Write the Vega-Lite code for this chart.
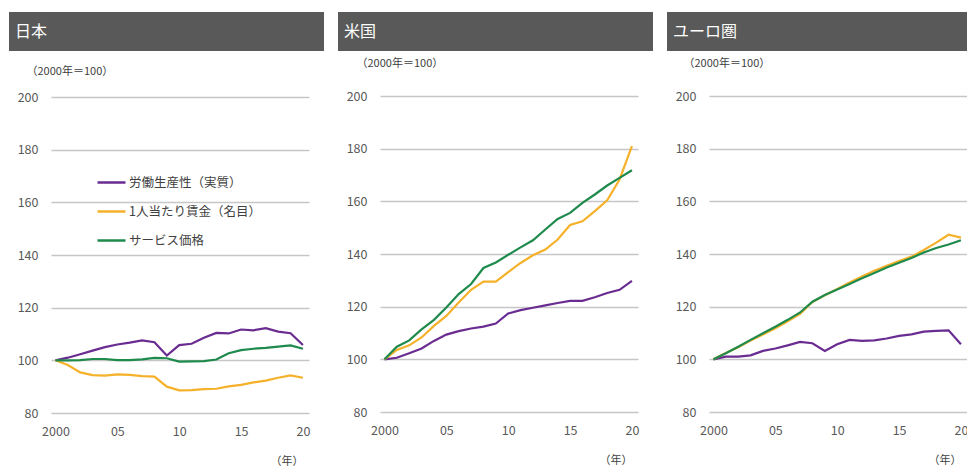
{
  "$schema": "https://vega.github.io/schema/vega-lite/v6.json",
  "padding": {"left": 8, "top": 12, "right": 0, "bottom": 0},
  "background": "white",
  "config": {
    "font": "Noto Sans CJK JP",
    "view": {"stroke": null},
    "axis": {"labelFont": "Noto Sans CJK JP", "titleFont": "Noto Sans CJK JP", "labelColor": "#595959", "titleColor": "#404040", "labelFontSize": 12.5, "titleFontSize": 11, "titleFontWeight": "normal"},
    "legend": {"labelFont": "Noto Sans CJK JP"}
  },
  "datasets": {
    "header": [{"region": "日本"}, {"region": "米国"}, {"region": "ユーロ圏"}],
    "jp": [
      {"year": 2000, "労働生産性（実質）": 100, "1人当たり賃金（名目）": 100, "サービス価格": 100},
      {"year": 2001, "労働生産性（実質）": 101, "1人当たり賃金（名目）": 98.2, "サービス価格": 100},
      {"year": 2002, "労働生産性（実質）": 102.3, "1人当たり賃金（名目）": 95.4, "サービス価格": 100.1},
      {"year": 2003, "労働生産性（実質）": 103.7, "1人当たり賃金（名目）": 94.4, "サービス価格": 100.5},
      {"year": 2004, "労働生産性（実質）": 105, "1人当たり賃金（名目）": 94.2, "サービス価格": 100.5},
      {"year": 2005, "労働生産性（実質）": 106, "1人当たり賃金（名目）": 94.7, "サービス価格": 100.1},
      {"year": 2006, "労働生産性（実質）": 106.7, "1人当たり賃金（名目）": 94.5, "サービス価格": 100.1},
      {"year": 2007, "労働生産性（実質）": 107.6, "1人当たり賃金（名目）": 94, "サービス価格": 100.4},
      {"year": 2008, "労働生産性（実質）": 106.9, "1人当たり賃金（名目）": 93.8, "サービス価格": 100.9},
      {"year": 2009, "労働生産性（実質）": 101.8, "1人当たり賃金（名目）": 90, "サービス価格": 100.8},
      {"year": 2010, "労働生産性（実質）": 105.8, "1人当たり賃金（名目）": 88.6, "サービス価格": 99.5},
      {"year": 2011, "労働生産性（実質）": 106.3, "1人当たり賃金（名目）": 88.7, "サービス価格": 99.6},
      {"year": 2012, "労働生産性（実質）": 108.6, "1人当たり賃金（名目）": 89.1, "サービス価格": 99.7},
      {"year": 2013, "労働生産性（実質）": 110.4, "1人当たり賃金（名目）": 89.2, "サービス価格": 100.3},
      {"year": 2014, "労働生産性（実質）": 110.2, "1人当たり賃金（名目）": 90.1, "サービス価格": 102.7},
      {"year": 2015, "労働生産性（実質）": 111.7, "1人当たり賃金（名目）": 90.7, "サービス価格": 103.9},
      {"year": 2016, "労働生産性（実質）": 111.4, "1人当たり賃金（名目）": 91.6, "サービス価格": 104.4},
      {"year": 2017, "労働生産性（実質）": 112.2, "1人当たり賃金（名目）": 92.3, "サービス価格": 104.7},
      {"year": 2018, "労働生産性（実質）": 110.9, "1人当たり賃金（名目）": 93.4, "サービス価格": 105.2},
      {"year": 2019, "労働生産性（実質）": 110.3, "1人当たり賃金（名目）": 94.3, "サービス価格": 105.7},
      {"year": 2020, "労働生産性（実質）": 105.8, "1人当たり賃金（名目）": 93.4, "サービス価格": 104.4}
    ],
    "us": [
      {"year": 2000, "労働生産性（実質）": 100, "1人当たり賃金（名目）": 100, "サービス価格": 100},
      {"year": 2001, "労働生産性（実質）": 100.6, "1人当たり賃金（名目）": 103.6, "サービス価格": 104.8},
      {"year": 2002, "労働生産性（実質）": 102.3, "1人当たり賃金（名目）": 105.3, "サービス価格": 107.2},
      {"year": 2003, "労働生産性（実質）": 104.1, "1人当たり賃金（名目）": 108.3, "サービス価格": 111.4},
      {"year": 2004, "労働生産性（実質）": 107, "1人当たり賃金（名目）": 112.7, "サービス価格": 115},
      {"year": 2005, "労働生産性（実質）": 109.4, "1人当たり賃金（名目）": 116.5, "サービス価格": 119.7},
      {"year": 2006, "労働生産性（実質）": 110.7, "1人当たり賃金（名目）": 121.6, "サービス価格": 124.8},
      {"year": 2007, "労働生産性（実質）": 111.7, "1人当たり賃金（名目）": 126.4, "サービス価格": 128.6},
      {"year": 2008, "労働生産性（実質）": 112.4, "1人当たり賃金（名目）": 129.5, "サービス価格": 134.7},
      {"year": 2009, "労働生産性（実質）": 113.6, "1人当たり賃金（名目）": 129.5, "サービス価格": 136.8},
      {"year": 2010, "労働生産性（実質）": 117.4, "1人当たり賃金（名目）": 133.1, "サービス価格": 139.7},
      {"year": 2011, "労働生産性（実質）": 118.7, "1人当たり賃金（名目）": 136.6, "サービス価格": 142.5},
      {"year": 2012, "労働生産性（実質）": 119.6, "1人当たり賃金（名目）": 139.5, "サービス価格": 145.2},
      {"year": 2013, "労働生産性（実質）": 120.5, "1人当たり賃金（名目）": 141.7, "サービス価格": 149.3},
      {"year": 2014, "労働生産性（実質）": 121.4, "1人当たり賃金（名目）": 145.5, "サービス価格": 153.3},
      {"year": 2015, "労働生産性（実質）": 122.2, "1人当たり賃金（名目）": 151, "サービス価格": 155.6},
      {"year": 2016, "労働生産性（実質）": 122.2, "1人当たり賃金（名目）": 152.4, "サービス価格": 159.4},
      {"year": 2017, "労働生産性（実質）": 123.6, "1人当たり賃金（名目）": 156.3, "サービス価格": 162.6},
      {"year": 2018, "労働生産性（実質）": 125.2, "1人当たり賃金（名目）": 160.4, "サービス価格": 166},
      {"year": 2019, "労働生産性（実質）": 126.4, "1人当たり賃金（名目）": 168.3, "サービス価格": 168.9},
      {"year": 2020, "労働生産性（実質）": 129.8, "1人当たり賃金（名目）": 181, "サービス価格": 171.8}
    ],
    "eu": [
      {"year": 2000, "労働生産性（実質）": 100, "1人当たり賃金（名目）": 100, "サービス価格": 100},
      {"year": 2001, "労働生産性（実質）": 101, "1人当たり賃金（名目）": 102.4, "サービス価格": 102.3},
      {"year": 2002, "労働生産性（実質）": 101, "1人当たり賃金（名目）": 104.6, "サービス価格": 104.8},
      {"year": 2003, "労働生産性（実質）": 101.5, "1人当たり賃金（名目）": 107.1, "サービス価格": 107.4},
      {"year": 2004, "労働生産性（実質）": 103.2, "1人当たり賃金（名目）": 109.4, "サービス価格": 109.9},
      {"year": 2005, "労働生産性（実質）": 104.1, "1人当たり賃金（名目）": 111.8, "サービス価格": 112.4},
      {"year": 2006, "労働生産性（実質）": 105.3, "1人当たり賃金（名目）": 114.4, "サービス価格": 115},
      {"year": 2007, "労働生産性（実質）": 106.6, "1人当たり賃金（名目）": 117.3, "サービス価格": 117.8},
      {"year": 2008, "労働生産性（実質）": 106.1, "1人当たり賃金（名目）": 121.8, "サービス価格": 121.9},
      {"year": 2009, "労働生産性（実質）": 103.2, "1人当たり賃金（名目）": 124.3, "サービス価格": 124.4},
      {"year": 2010, "労働生産性（実質）": 105.7, "1人当たり賃金（名目）": 126.7, "サービス価格": 126.5},
      {"year": 2011, "労働生産性（実質）": 107.4, "1人当たり賃金（名目）": 129.2, "サービス価格": 128.6},
      {"year": 2012, "労働生産性（実質）": 107, "1人当たり賃金（名目）": 131.5, "サービス価格": 130.8},
      {"year": 2013, "労働生産性（実質）": 107.2, "1人当たり賃金（名目）": 133.6, "サービス価格": 132.8},
      {"year": 2014, "労働生産性（実質）": 107.9, "1人当たり賃金（名目）": 135.5, "サービス価格": 134.9},
      {"year": 2015, "労働生産性（実質）": 108.9, "1人当たり賃金（名目）": 137.3, "サービス価格": 136.7},
      {"year": 2016, "労働生産性（実質）": 109.5, "1人当たり賃金（名目）": 139, "サービス価格": 138.5},
      {"year": 2017, "労働生産性（実質）": 110.5, "1人当たり賃金（名目）": 141.5, "サービス価格": 140.6},
      {"year": 2018, "労働生産性（実質）": 110.8, "1人当たり賃金（名目）": 144.3, "サービス価格": 142.3},
      {"year": 2019, "労働生産性（実質）": 111, "1人当たり賃金（名目）": 147.3, "サービス価格": 143.6},
      {"year": 2020, "労働生産性（実質）": 105.7, "1人当たり賃金（名目）": 146.2, "サービス価格": 145.2}
    ]
  },
  "spacing": 13,
  "resolve": {"scale": {"color": "independent"}, "legend": {"color": "independent"}},
  "hconcat": [
    {
      "spacing": 14,
      "vconcat": [
        {
          "width": 258, "height": 39,
          "data": {"name": "header"},
          "transform": [{"filter": "datum.region === '日本'"}],
          "encoding": {
            "x": {"datum": 0, "type": "quantitative", "scale": {"domain": [0, 1], "range": [-42, 273]}, "axis": null},
            "y": {"datum": 0, "type": "quantitative", "scale": {"domain": [0, 1]}, "axis": null}
          },
          "layer": [
            {"mark": {"type": "bar", "color": "#595959"}, "encoding": {"x2": {"datum": 1}, "y2": {"datum": 1}}},
            {"mark": {"type": "text", "align": "left", "baseline": "middle", "dx": 6, "color": "white", "fontSize": 16, "font": "Noto Sans CJK JP"},
             "encoding": {"y": {"datum": 0.5, "type": "quantitative"}, "text": {"field": "region"}}}
          ]
        },
        {
          "width": 258, "height": 316,
          "data": {"name": "jp"},
          "transform": [{"fold": ["労働生産性（実質）", "1人当たり賃金（名目）", "サービス価格"], "as": ["series", "value"]}],
          "mark": {"type": "line", "strokeWidth": 2.2},
          "encoding": {
            "x": {"field": "year", "type": "quantitative", "scale": {"domain": [1999.64, 2020.49], "nice": false, "zero": false},
              "axis": {"values": [2000, 2005, 2010, 2015, 2020], "labelExpr": "datum.value == 2000 ? '2000' : slice('0' + (datum.value - 2000), -2)", "grid": false, "domain": false, "ticks": false, "labelPadding": 12, "labelFlush": false, "title": "（年）", "titleAlign": "right", "titleX": 252, "titleY": 48, "titleBaseline": "middle"}},
            "y": {"field": "value", "type": "quantitative", "scale": {"domain": [80, 200], "nice": false, "zero": false},
              "axis": {"values": [80, 100, 120, 140, 160, 180, 200], "grid": true, "gridColor": "#c6c6c6", "gridWidth": 1.5, "domain": false, "ticks": true, "tickSize": 42, "tickColor": "transparent", "labelPadding": -29, "labelFlush": false, "title": "（2000年＝100）", "titleAngle": 0, "titleAlign": "left", "titleBaseline": "middle", "titleX": -25, "titleY": -26}},
            "color": {"field": "series", "type": "nominal",
              "scale": {"domain": ["労働生産性（実質）", "1人当たり賃金（名目）", "サービス価格"], "range": ["#6a2c91", "#f6b12a", "#1e8a4c"]},
              "legend": {"orient": "none", "legendX": 45, "legendY": 155, "title": null, "symbolType": "stroke", "symbolSize": 784, "symbolStrokeWidth": 2.5, "labelFontSize": 12.5, "labelColor": "#404040", "labelOffset": 2, "rowPadding": 7, "padding": 0}}
          }
        }
      ]
    },
    {
      "spacing": 6,
      "vconcat": [
        {
          "width": 258, "height": 39,
          "data": {"name": "header"},
          "transform": [{"filter": "datum.region === '米国'"}],
          "encoding": {
            "x": {"datum": 0, "type": "quantitative", "scale": {"domain": [0, 1], "range": [-42, 273]}, "axis": null},
            "y": {"datum": 0, "type": "quantitative", "scale": {"domain": [0, 1]}, "axis": null}
          },
          "layer": [
            {"mark": {"type": "bar", "color": "#595959"}, "encoding": {"x2": {"datum": 1}, "y2": {"datum": 1}}},
            {"mark": {"type": "text", "align": "left", "baseline": "middle", "dx": 6, "color": "white", "fontSize": 16, "font": "Noto Sans CJK JP"},
             "encoding": {"y": {"datum": 0.5, "type": "quantitative"}, "text": {"field": "region"}}}
          ]
        },
        {
          "width": 258, "height": 316,
          "data": {"name": "us"},
          "transform": [{"fold": ["労働生産性（実質）", "1人当たり賃金（名目）", "サービス価格"], "as": ["series", "value"]}],
          "mark": {"type": "line", "strokeWidth": 2.2},
          "encoding": {
            "x": {"field": "year", "type": "quantitative", "scale": {"domain": [1999.64, 2020.49], "nice": false, "zero": false},
              "axis": {"values": [2000, 2005, 2010, 2015, 2020], "labelExpr": "datum.value == 2000 ? '2000' : slice('0' + (datum.value - 2000), -2)", "grid": false, "domain": false, "ticks": false, "labelPadding": 12, "labelFlush": false, "title": "（年）", "titleAlign": "right", "titleX": 252, "titleY": 48, "titleBaseline": "middle"}},
            "y": {"field": "value", "type": "quantitative", "scale": {"domain": [80, 200], "nice": false, "zero": false},
              "axis": {"values": [80, 100, 120, 140, 160, 180, 200], "grid": true, "gridColor": "#c6c6c6", "gridWidth": 1.5, "domain": false, "ticks": true, "tickSize": 42, "tickColor": "transparent", "labelPadding": -29, "labelFlush": false, "title": "（2000年＝100）", "titleAngle": 0, "titleAlign": "left", "titleBaseline": "middle", "titleX": -24, "titleY": -33}},
            "color": {"field": "series", "type": "nominal",
              "scale": {"domain": ["労働生産性（実質）", "1人当たり賃金（名目）", "サービス価格"], "range": ["#6a2c91", "#f6b12a", "#1e8a4c"]},
              "legend": null}
          }
        }
      ]
    },
    {
      "spacing": 6,
      "vconcat": [
        {
          "width": 258, "height": 39,
          "data": {"name": "header"},
          "transform": [{"filter": "datum.region === 'ユーロ圏'"}],
          "encoding": {
            "x": {"datum": 0, "type": "quantitative", "scale": {"domain": [0, 1], "range": [-42, 273]}, "axis": null},
            "y": {"datum": 0, "type": "quantitative", "scale": {"domain": [0, 1]}, "axis": null}
          },
          "layer": [
            {"mark": {"type": "bar", "color": "#595959"}, "encoding": {"x2": {"datum": 1}, "y2": {"datum": 1}}},
            {"mark": {"type": "text", "align": "left", "baseline": "middle", "dx": 6, "color": "white", "fontSize": 16, "font": "Noto Sans CJK JP"},
             "encoding": {"y": {"datum": 0.5, "type": "quantitative"}, "text": {"field": "region"}}}
          ]
        },
        {
          "width": 258, "height": 316,
          "data": {"name": "eu"},
          "transform": [{"fold": ["労働生産性（実質）", "1人当たり賃金（名目）", "サービス価格"], "as": ["series", "value"]}],
          "mark": {"type": "line", "strokeWidth": 2.2},
          "encoding": {
            "x": {"field": "year", "type": "quantitative", "scale": {"domain": [1999.64, 2020.49], "nice": false, "zero": false},
              "axis": {"values": [2000, 2005, 2010, 2015, 2020], "labelExpr": "datum.value == 2000 ? '2000' : slice('0' + (datum.value - 2000), -2)", "grid": false, "domain": false, "ticks": false, "labelPadding": 12, "labelFlush": false, "title": "（年）", "titleAlign": "right", "titleX": 252, "titleY": 48, "titleBaseline": "middle"}},
            "y": {"field": "value", "type": "quantitative", "scale": {"domain": [80, 200], "nice": false, "zero": false},
              "axis": {"values": [80, 100, 120, 140, 160, 180, 200], "grid": true, "gridColor": "#c6c6c6", "gridWidth": 1.5, "domain": false, "ticks": true, "tickSize": 42, "tickColor": "transparent", "labelPadding": -29, "labelFlush": false, "title": "（2000年＝100）", "titleAngle": 0, "titleAlign": "left", "titleBaseline": "middle", "titleX": -26, "titleY": -33}},
            "color": {"field": "series", "type": "nominal",
              "scale": {"domain": ["労働生産性（実質）", "1人当たり賃金（名目）", "サービス価格"], "range": ["#6a2c91", "#f6b12a", "#1e8a4c"]},
              "legend": null}
          }
        }
      ]
    }
  ]
}
